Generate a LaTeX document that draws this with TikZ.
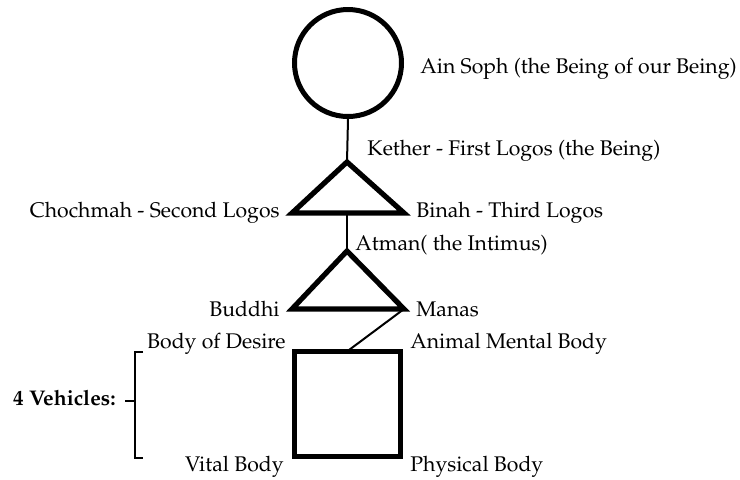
\documentclass[tikz,border=0pt]{standalone}
\usepackage[T1]{fontenc}
\usepackage{mathpazo}
\usetikzlibrary{positioning}

\begin{document}
\begin{tikzpicture}[
    x=0.5pt, y=-0.5pt,
    lbl/.style={inner sep=0pt, font=\fontsize{10.6}{12}\selectfont},
    heavy/.style={draw, line width=2.6pt},
    link/.style={draw, line width=1pt},
    brace/.style={draw, line width=1pt}
]
\useasboundingbox (0,0) rectangle (740,479);

% Ain Soph
\node[circle, heavy, line width=2.5pt, minimum size=53.5pt, inner sep=0pt] (ainsoph) at (348,63) {};
\node[lbl, anchor=west] (ainsophlbl) at (420,69) {Ain Soph (the Being of our Being)};

% first triangle
\coordinate (kether) at (347,162);
\coordinate (chochmah) at (292,213);
\coordinate (binah) at (404,213);
\coordinate (logosbase) at (347,213);
\draw[heavy, line join=miter] (kether) -- (chochmah) -- (binah) -- cycle;
\node[lbl, anchor=west] (ketherlbl) at (367,151) {Kether - First Logos (the Being)};
\node[lbl, left=6pt of chochmah] (chochmahlbl) {Chochmah - Second Logos};
\node[lbl, right=6pt of binah] (binahlbl) {Binah - Third Logos};

% second triangle
\coordinate (atman) at (347,251);
\coordinate (buddhi) at (292,309);
\coordinate (manas) at (404,309);
\draw[heavy, line join=miter] (atman) -- (buddhi) -- (manas) -- cycle;
\node[lbl, anchor=west] (atmanlbl) at (355,245) {Atman( the Intimus)};
\node[lbl, left=6pt of buddhi] (buddhilbl) {Buddhi};
\node[lbl, right=6pt of manas] (manaslbl) {Manas};

% the four bodies
\coordinate (desire) at (294.5,351.5);
\coordinate (animal) at (400.5,351.5);
\coordinate (physical) at (400.5,456.5);
\coordinate (vital) at (294.5,456.5);
\coordinate (bodytop) at (347,351.5);
\draw[heavy, line width=2.5pt] (desire) rectangle (physical);
\node[lbl, anchor=east] (desirelbl) at (286,344) {Body of Desire};
\node[lbl, anchor=west] (animallbl) at (410,344) {Animal Mental Body};
\node[lbl, anchor=east] (vitallbl) at (284,467) {Vital Body};
\node[lbl, anchor=west] (physicallbl) at (410,467) {Physical Body};

% connectors
\draw[link] (ainsoph.south) -- (kether);
\draw[link] (logosbase) -- (atman);
\draw[link] (manas) -- (bodytop);

% bracket
\coordinate (brtop) at (143,352);
\coordinate (brbot) at (143,458);
\coordinate (brmid) at (135,401);
\draw[brace] (brtop) -- (135,352) -- (135,458) -- (brbot);
\draw[brace] (brmid) -- ++(-10,0) coordinate (brtip);
\node[lbl, anchor=east, font=\fontsize{10.6}{12}\selectfont\bfseries] (vehicles) at (116,398) {4 Vehicles:};
\end{tikzpicture}
\end{document}
